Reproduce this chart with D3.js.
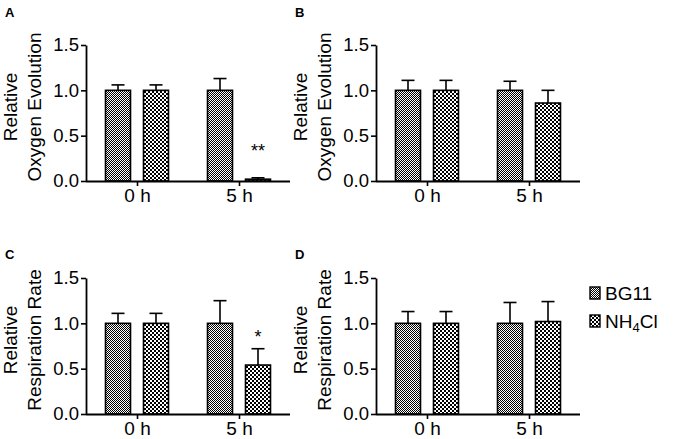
<!DOCTYPE html>
<html>
<head>
<meta charset="utf-8">
<script src="https://cdn.jsdelivr.net/npm/d3@7"></script>
<style>
  html, body { margin: 0; padding: 0; background: #fff; }
  svg { display: block; }
  text { font-family: "Liberation Sans", Arial, sans-serif; fill: #000; }
</style>
</head>
<body>
<div id="chart"></div>
<script>
/* ---- data ---- */
const groups = ['0 h', '5 h'];
const series = ['BG11', 'NH4Cl'];
const yTicks = [0, 0.5, 1.0, 1.5];

/* A: oxygen evolution */
const bg11A   = [1.00, 1.00];
const bg11ErrA = [0.06, 0.13];
const nh4A    = [1.00, 0.02];
const nh4ErrA = [0.06, 0.015];
const starsA  = [{ group: '5 h', series: 'NH4Cl', text: '**', at: 0.37 }];

/* B: oxygen evolution */
const bg11B   = [1.00, 1.00];
const bg11ErrB = [0.11, 0.10];
const nh4B    = [1.00, 0.86];
const nh4ErrB = [0.11, 0.14];

/* C: respiration rate */
const bg11C   = [1.00, 1.00];
const bg11ErrC = [0.11, 0.25];
const nh4C    = [1.00, 0.54];
const nh4ErrC = [0.11, 0.18];
const starsC  = [{ group: '5 h', series: 'NH4Cl', text: '*', at: 0.89 }];

/* D: respiration rate */
const bg11D   = [1.00, 1.00];
const bg11ErrD = [0.13, 0.23];
const nh4D    = [1.00, 1.02];
const nh4ErrD = [0.13, 0.22];

/* ---- layout ---- */
const WIDTH = 674, HEIGHT = 439;
const PW = 204, PH = 136;

const panels = [
  { id: 'A', x: 86,  y: 45,  ly: 17,  title: ['Relative', 'Oxygen Evolution'],
    bg: bg11A, bgErr: bg11ErrA, nh: nh4A, nhErr: nh4ErrA, stars: starsA },
  { id: 'B', x: 376, y: 45,  ly: 17,  title: ['Relative', 'Oxygen Evolution'],
    bg: bg11B, bgErr: bg11ErrB, nh: nh4B, nhErr: nh4ErrB, stars: [] },
  { id: 'C', x: 86,  y: 278, ly: 259, title: ['Relative', 'Respiration Rate'],
    bg: bg11C, bgErr: bg11ErrC, nh: nh4C, nhErr: nh4ErrC, stars: starsC },
  { id: 'D', x: 376, y: 278, ly: 259, title: ['Relative', 'Respiration Rate'],
    bg: bg11D, bgErr: bg11ErrD, nh: nh4D, nhErr: nh4ErrD, stars: [] },
];

const svg = d3.select('#chart').append('svg')
  .attr('width', WIDTH).attr('height', HEIGHT);

/* patterns: fine checker for BG11, coarse checker for NH4Cl */
const defs = svg.append('defs');
function checker(id, cell) {
  const p = defs.append('pattern').attr('id', id)
    .attr('patternUnits', 'userSpaceOnUse')
    .attr('width', cell * 2).attr('height', cell * 2);
  p.append('rect').attr('width', cell * 2).attr('height', cell * 2).attr('fill', '#fff');
  p.append('rect').attr('width', cell).attr('height', cell).attr('fill', '#000');
  p.append('rect').attr('x', cell).attr('y', cell)
    .attr('width', cell).attr('height', cell).attr('fill', '#000');
}
checker('pat-bg11', 1);
checker('pat-nh4', 2);
const fills = { BG11: 'url(#pat-bg11)', NH4Cl: 'url(#pat-nh4)' };

const x0 = d3.scalePoint().domain(groups).range([0, PW]).padding(0.5);
const x1 = d3.scaleBand().domain(series).range([-31.5, 31.5]).paddingInner(0.342);
const y = d3.scaleLinear().domain([0, 1.5]).range([PH, 0]);

panels.forEach(p => {
  const g = svg.append('g').attr('transform', `translate(${p.x},${p.y})`);

  const rows = [];
  groups.forEach((grp, i) => {
    rows.push({ group: grp, series: 'BG11',  v: p.bg[i], e: p.bgErr[i] });
    rows.push({ group: grp, series: 'NH4Cl', v: p.nh[i], e: p.nhErr[i] });
  });

  /* error bars (upper only) */
  rows.forEach(d => {
    const cx = x0(d.group) + x1(d.series) + x1.bandwidth() / 2;
    g.append('line')
      .attr('x1', cx).attr('x2', cx)
      .attr('y1', y(d.v)).attr('y2', y(d.v + d.e))
      .attr('stroke', '#000').attr('stroke-width', 1.6);
    g.append('line')
      .attr('x1', cx - 6.5).attr('x2', cx + 6.5)
      .attr('y1', y(d.v + d.e)).attr('y2', y(d.v + d.e))
      .attr('stroke', '#000').attr('stroke-width', 1.6);
  });

  /* bars */
  g.selectAll('.bar').data(rows).join('rect')
    .attr('class', 'bar')
    .attr('x', d => x0(d.group) + x1(d.series))
    .attr('y', d => y(d.v))
    .attr('width', x1.bandwidth())
    .attr('height', d => PH - y(d.v))
    .attr('fill', d => fills[d.series])
    .attr('stroke', '#000').attr('stroke-width', 1.6);

  /* significance marks */
  p.stars.forEach(s => {
    const cx = x0(s.group) + x1(s.series) + x1.bandwidth() / 2;
    g.append('text')
      .attr('x', cx).attr('y', y(s.at) + 10)
      .attr('text-anchor', 'middle').attr('font-size', 18)
      .text(s.text);
  });

  /* axes */
  const yAxis = g.append('g')
    .call(d3.axisLeft(y).tickValues(yTicks).tickFormat(d3.format('.1f'))
      .tickSize(5).tickSizeOuter(0).tickPadding(2));
  yAxis.selectAll('text').attr('font-size', 18.5)
    .attr('font-family', '"Liberation Sans", Arial, sans-serif');

  const xAxis = g.append('g').attr('transform', `translate(0,${PH})`)
    .call(d3.axisBottom(x0).tickSize(5).tickSizeOuter(0).tickPadding(3));
  xAxis.select('.domain').attr('d', `M0,0.5H${PW}`);
  xAxis.selectAll('text').attr('font-size', 19)
    .attr('font-family', '"Liberation Sans", Arial, sans-serif');

  [yAxis, xAxis].forEach(a => {
    a.select('.domain').attr('stroke', '#000').attr('stroke-width', 1.8);
    a.selectAll('.tick line').attr('stroke', '#000').attr('stroke-width', 1.6);
  });

  /* y title, two lines */
  p.title.forEach((t, i) => {
    svg.append('text')
      .attr('transform', `translate(${p.x - 69 + i * 24},${p.y + PH / 2 - 6}) rotate(-90)`)
      .attr('text-anchor', 'middle').attr('font-size', 19)
      .text(t);
  });

  /* panel letter */
  svg.append('text')
    .attr('x', p.x - 81).attr('y', p.ly)
    .attr('font-size', 13).attr('font-weight', 'bold')
    .text(p.id);
});

/* legend */
const leg = svg.append('g').attr('transform', 'translate(590,287)');
series.forEach((s, i) => {
  const row = leg.append('g').attr('transform', `translate(0,${i * 28})`);
  row.append('rect').attr('width', 10).attr('height', 12)
    .attr('fill', fills[s]).attr('stroke', '#000').attr('stroke-width', 1.4);
  const t = row.append('text').attr('x', 15).attr('y', 13).attr('font-size', 19);
  if (s === 'NH4Cl') {
    t.append('tspan').text('NH');
    t.append('tspan').attr('font-size', 13).attr('dy', 4).text('4');
    t.append('tspan').attr('dy', -4).text('Cl');
  } else {
    t.text(s);
  }
});
</script>
</body>
</html>
